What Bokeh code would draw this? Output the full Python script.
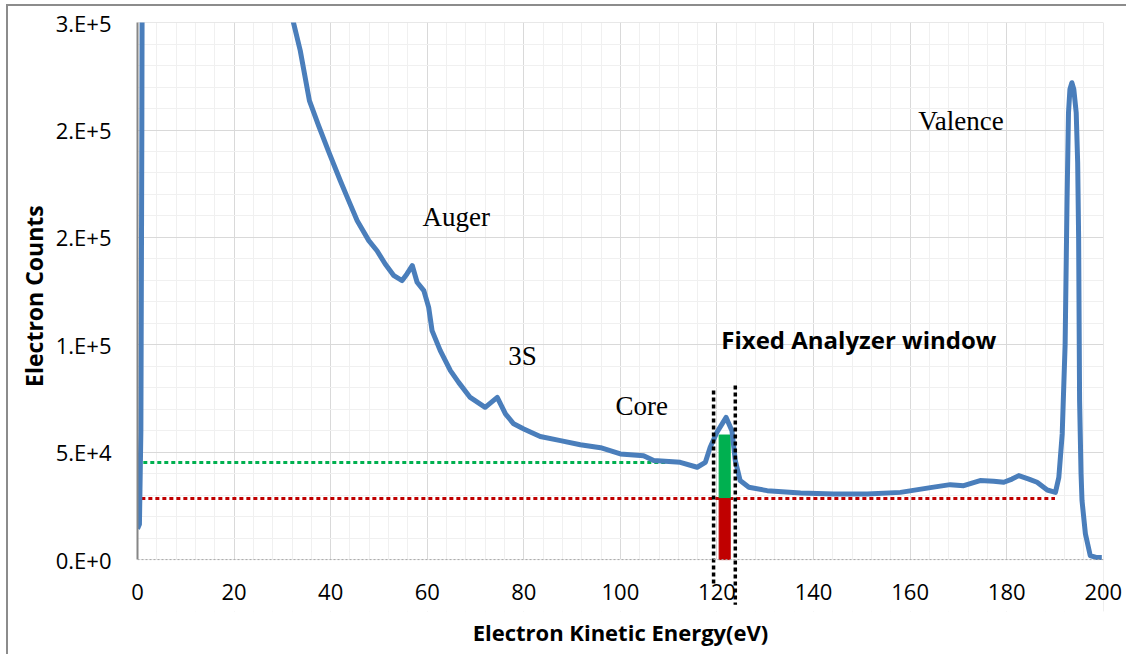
from bokeh.plotting import figure
from bokeh.models import FixedTicker, BoxAnnotation, Span
from bokeh.core.properties import value
from bokeh.embed import file_html
from bokeh.resources import INLINE

# Spectrum (electron kinetic energy in eV, electron counts)
energy = [0.0, 0.4, 0.7, 0.9, 1.1, 31.0, 32.3, 33.7, 35.6, 37.5, 39.5, 42.0, 43.75, 45.5, 47.9,
          49.6, 51.3, 53.1, 54.8, 55.8, 56.9, 57.9, 59.3, 60.3, 61.0, 62.7, 64.8, 66.5, 68.9,
          72.0, 74.5, 76.2, 77.9, 80.0, 83.4, 87.6, 91.7, 95.9, 100.0, 104.8, 106.9, 112.4,
          115.9, 117.6, 118.6, 120.0, 121.9, 123.1, 123.8, 124.8, 126.6, 130.4, 137.3, 144.2,
          151.1, 158.0, 164.2, 168.3, 171.1, 174.5, 177.3, 179.4, 181.1, 182.5, 184.6, 186.3,
          188.4, 190.1, 190.8, 191.5, 192.1, 192.5, 192.8, 193.1, 193.5, 193.9, 194.4, 194.7,
          194.9, 195.1, 195.4, 195.6, 196.3, 197.3, 198.5, 199.7]
counts = [14400, 16500, 60000, 200000, 420000, 268000, 250000, 237000, 213700, 202000, 190400,
          176400, 167000, 157800, 148500, 143800, 137600, 132200, 129900, 133000, 136900,
          129100, 125200, 117400, 106600, 97300, 88000, 82500, 75500, 70900, 75500, 67800,
          63200, 60800, 57300, 55400, 53500, 52100, 49200, 48400, 46100, 45300, 43000, 45300,
          52300, 59300, 66200, 60000, 46100, 36800, 33700, 32100, 31000, 30600, 30600, 31300,
          33500, 34900, 34400, 36800, 36500, 36000, 37500, 39100, 37500, 36000, 32400, 31300,
          38300, 58500, 100000, 167000, 208000, 219000, 222000, 219000, 208000, 185000,
          150000, 74000, 40000, 27500, 12000, 1900, 1000, 1000]

# Reference levels and analyzer window
signal_level = 45200
background_level = 28400
signal_level_x = [1.2, 112.8]
background_level_x = [0.8, 190.0]
window_center = [121.6]
window_peak = [58000]
window_edges = [119.3, 123.8]
window_edge_tops = [78700, 81000]
window_edge_bottoms = [-12000, -21000]

x_ticks = [0, 20, 40, 60, 80, 100, 120, 140, 160, 180, 200]
y_ticks = [0, 50000, 100000, 150000, 200000, 250000]
y_tick_labels = ["0.E+0", "5.E+4", "1.E+5", "2.E+5", "2.E+5", "3.E+5"]

p = figure(width=1120, height=650, x_range=(0, 200.05), y_range=(-24159, 250050),
           output_backend="svg", toolbar_location=None,
           min_border_left=129, min_border_right=25, min_border_top=16, min_border_bottom=45)
p.styles = {"margin-left": "6px", "margin-top": "4px",
            "border-left": "2px solid #8c8c8c", "border-top": "2px solid #8c8c8c"}

p.outline_line_color = None
p.xaxis.ticker = FixedTicker(ticks=x_ticks, minor_ticks=list(range(0, 201, 4)))
p.yaxis.ticker = FixedTicker(ticks=y_ticks, minor_ticks=list(range(0, 250001, 10000)))
p.yaxis.major_label_overrides = {t: l for t, l in zip(y_ticks, y_tick_labels)}
p.yaxis.bounds = (0, 250000)

p.xgrid.grid_line_color = "#d9d9d9"
p.ygrid.grid_line_color = "#d9d9d9"
p.xgrid.minor_grid_line_color = "#f0f0f0"
p.ygrid.minor_grid_line_color = "#f0f0f0"

# blank out grid below the x axis
p.add_layout(BoxAnnotation(top=0, fill_color="white", fill_alpha=1, line_color=None, level="underlay"))
# x axis line at zero
p.add_layout(Span(location=0, dimension="width", line_color="#a6a6a6", line_width=1, line_dash="2 2"))

for ax in (p.xaxis, p.yaxis):
    ax.major_tick_line_color = None
    ax.minor_tick_line_color = None
    ax.major_tick_out = 0
    ax.major_tick_in = 0
    ax.minor_tick_out = 0
    ax.major_label_text_font = "Open Sans"
    ax.major_label_text_font_size = "22px"
    ax.major_label_text_color = "black"
    ax.axis_label_text_font = "Open Sans"
    ax.axis_label_text_font_style = "bold"
    ax.axis_label_text_color = "black"

p.xaxis.axis_label_text_font_size = "22px"
p.yaxis.axis_label_text_font_size = "23px"
p.yaxis.axis_line_color = "#868686"
p.yaxis.axis_line_width = 2
p.xaxis.axis_line_color = None
p.xaxis.major_label_standoff = -28
p.yaxis.major_label_standoff = 26
p.xaxis.axis_label = "Electron Kinetic Energy(eV)"
p.yaxis.axis_label = "\u00a0" * 7 + "Electron Counts"
p.xaxis.axis_label_standoff = 14
p.yaxis.axis_label_standoff = 3

# reference levels
p.line(signal_level_x, [signal_level, signal_level], line_color="#00b050", line_width=3, line_dash="4 3")
p.line(background_level_x, [background_level, background_level], line_color="#c00000", line_width=3, line_dash="4 3")

# window bars
p.vbar(x=window_center, width=2.3, bottom=[background_level], top=window_peak, color="#00b050")
p.vbar(x=window_center, width=2.3, bottom=[0], top=[background_level], color="#c00000")

# spectrum
p.line(energy, counts, line_color="#4a7ebb", line_width=5, line_join="round")

# analyzer window edges
p.segment(x0=window_edges, y0=window_edge_tops, x1=window_edges, y1=window_edge_bottoms,
          line_color="black", line_width=3.5, line_dash="4 3")

# labels
p.text(x=[59.0, 76.8, 99.0, 161.7], y=[159650, 95000, 71700, 204400],
       text=["Auger", "3S", "Core", "Valence"], text_font=value("Liberation Serif"),
       text_font_size="27px", text_baseline="alphabetic", text_color="black")
p.text(x=[120.9], y=[102500], text=["Fixed Analyzer window"], text_font=value("Open Sans"),
       text_font_style="bold", text_font_size="24px", text_baseline="alphabetic", text_color="black")

open("out.html", "w").write(file_html(p, INLINE))
